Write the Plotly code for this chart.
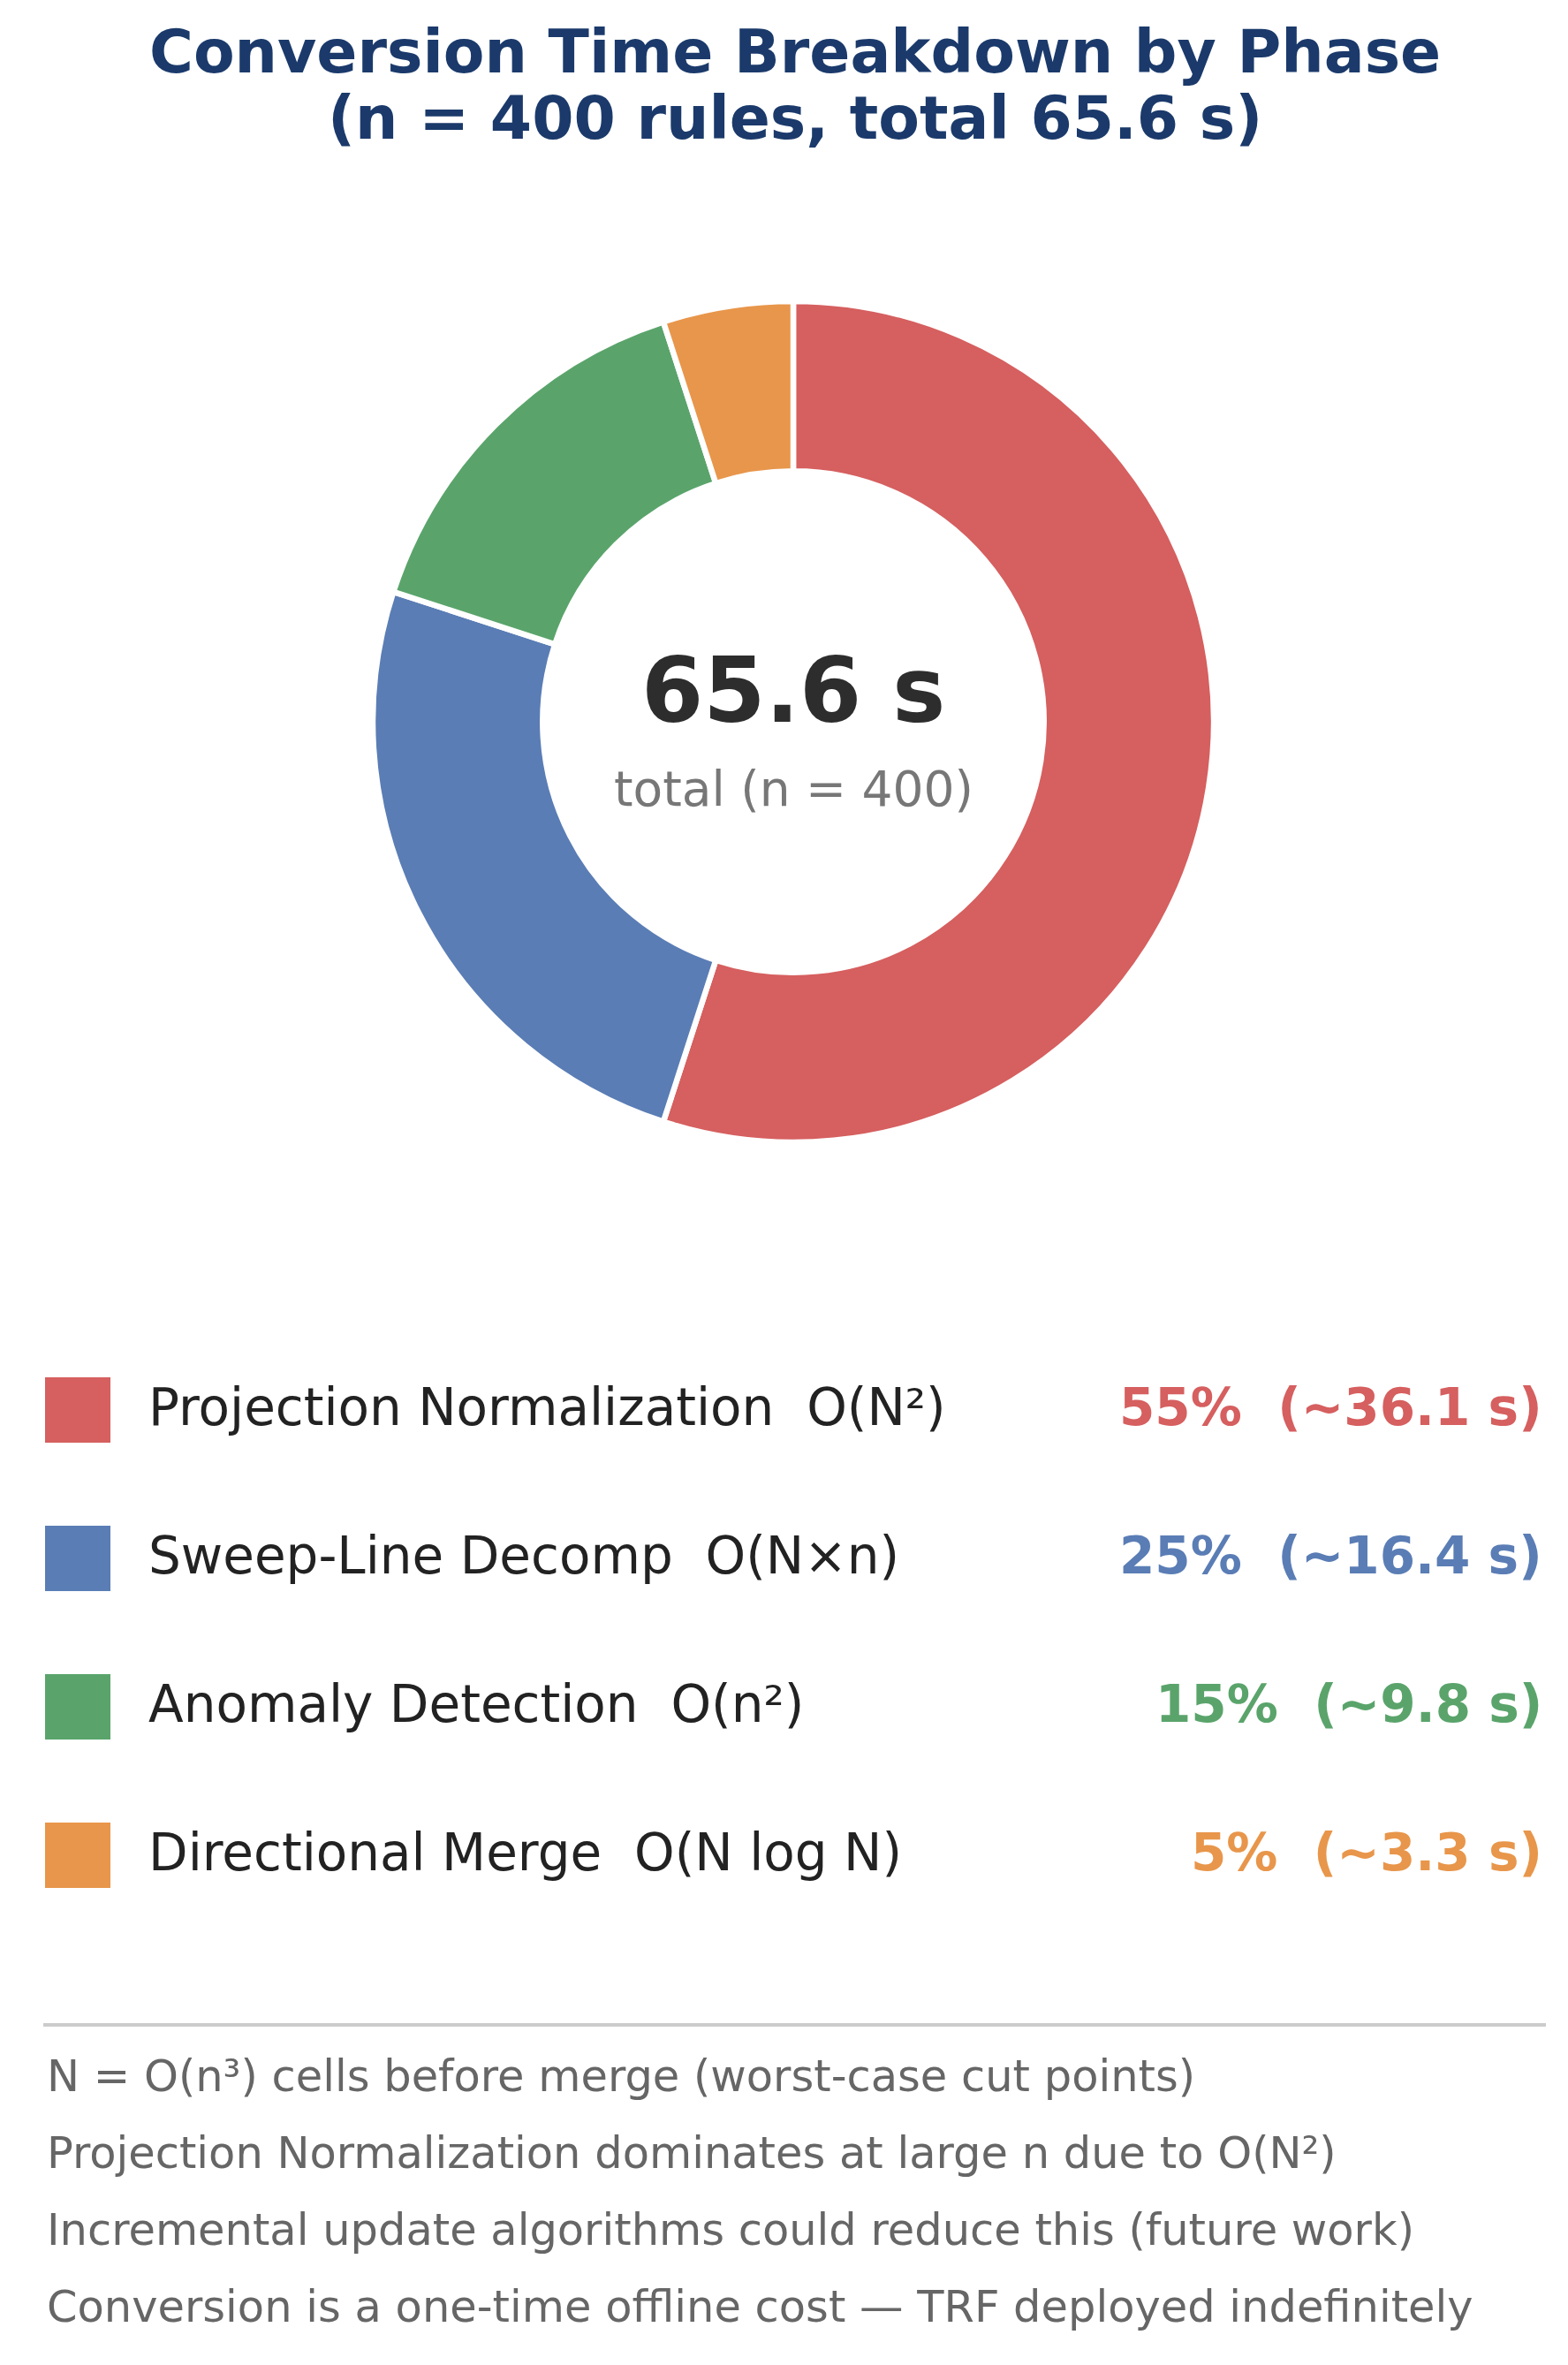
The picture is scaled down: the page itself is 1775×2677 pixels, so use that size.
import plotly.graph_objects as go

# ---------------- data ----------------
phases = ["Projection Normalization", "Sweep-Line Decomp", "Anomaly Detection", "Directional Merge"]
complexity = ["O(N²)", "O(N×n)", "O(n²)", "O(N log N)"]
percent = [55, 25, 15, 5]
seconds = [36.1, 16.4, 9.8, 3.3]
colors = ["#D65F5F", "#5A7DB5", "#5AA46B", "#E8964B"]
total_seconds = 65.6
n_rules = 400
title_lines = ["Conversion Time Breakdown by Phase", "(n = 400 rules, total 65.6 s)"]
notes = [
    "N = O(n³) cells before merge (worst-case cut points)",
    "Projection Normalization dominates at large n due to O(N²)",
    "Incremental update algorithms could reduce this (future work)",
    "Conversion is a one-time offline cost — TRF deployed indefinitely",
]

# ---------------- layout constants (pixels) ----------------
W, H = 1775, 2677
FONT = "DejaVu Sans"
cx, cy, R = 898, 817, 476
row0, row_gap = 1596, 168
sq_x, sq_size = 88, 74
label_x, value_x = 166, 1748
note0, note_gap = 2350, 87

fig = go.Figure()

fig.add_trace(go.Pie(
    values=percent,
    labels=phases,
    marker=dict(colors=colors, line=dict(color="white", width=6.5)),
    hole=0.596,
    sort=False,
    direction="clockwise",
    rotation=0,
    textinfo="none",
    hoverinfo="label+percent",
    showlegend=False,
    domain=dict(x=[(cx - R) / W, (cx + R) / W], y=[(H - cy - R) / H, (H - cy + R) / H]),
))

rows_y = [row0 + i * row_gap for i in range(len(phases))]

fig.add_trace(go.Scatter(
    x=[sq_x] * len(phases),
    y=rows_y,
    mode="markers",
    marker=dict(symbol="square", size=sq_size, color=colors, line=dict(width=0)),
    hoverinfo="skip",
    showlegend=False,
))

annotations = []
# title
for i, t in enumerate(title_lines):
    annotations.append(dict(
        x=900, y=58 + i * 75, xref="x", yref="y", text=t, showarrow=False,
        xanchor="center", yanchor="middle",
        font=dict(family=FONT, size=68, color="#1B3A6B", weight="bold"),
    ))
# center text
annotations.append(dict(
    x=cx, y=782, xref="x", yref="y", text=f"{total_seconds} s", showarrow=False,
    xanchor="center", yanchor="middle",
    font=dict(family=FONT, size=101, color="#2D2D2D", weight="bold"),
))
annotations.append(dict(
    x=cx, y=893, xref="x", yref="y", text=f"total (n = {n_rules})", showarrow=False,
    xanchor="center", yanchor="middle",
    font=dict(family=FONT, size=55, color="#777777"),
))
# legend rows
for i, (p, c, pct, s, col) in enumerate(zip(phases, complexity, percent, seconds, colors)):
    yy = rows_y[i] - 3
    annotations.append(dict(
        x=label_x, y=yy, xref="x", yref="y", text=f"{p}  {c}", showarrow=False,
        xanchor="left", yanchor="middle",
        font=dict(family=FONT, size=58, color="#222222"),
    ))
    annotations.append(dict(
        x=value_x, y=yy, xref="x", yref="y", text=f"{pct}%  (~{s} s)", showarrow=False,
        xanchor="right", yanchor="middle",
        font=dict(family=FONT, size=58, color=col, weight="bold"),
    ))
# notes
for i, t in enumerate(notes):
    annotations.append(dict(
        x=51, y=note0 + i * note_gap, xref="x", yref="y", text=t, showarrow=False,
        xanchor="left", yanchor="middle",
        font=dict(family=FONT, size=49.5, color="#666666"),
    ))

fig.update_layout(
    width=W, height=H,
    margin=dict(l=0, r=0, t=0, b=0),
    paper_bgcolor="white", plot_bgcolor="white",
    xaxis=dict(range=[0, W], visible=False, fixedrange=True, domain=[0, 1]),
    yaxis=dict(range=[H, 0], visible=False, fixedrange=True, domain=[0, 1]),
    annotations=annotations,
    shapes=[dict(type="line", xref="x", yref="y", x0=49, x1=1750, y0=2292, y1=2292,
                 line=dict(color="#CCCCCC", width=4))],
    showlegend=False,
)

fig.write_html("out.html", config={"displayModeBar": False},
               post_script="document.body.style.margin='0';")
